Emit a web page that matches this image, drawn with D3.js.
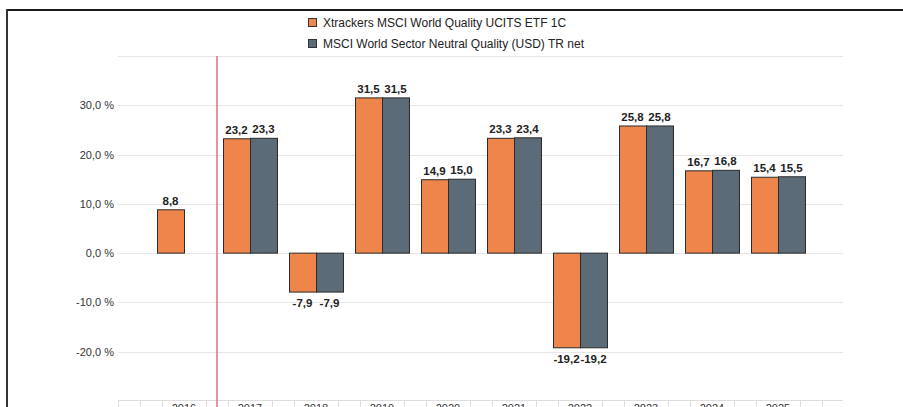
<!DOCTYPE html>
<html lang="de">
<head>
<meta charset="utf-8">
<title>Jahresperformance</title>
<script src="https://cdn.jsdelivr.net/npm/d3@7"></script>
<style>
  body { margin: 0; background: #fff; }
  svg { display: block; font-family: "Liberation Sans", Arial, sans-serif; }
</style>
</head>
<body>
<script>
// data
const years = ["2016", "2017", "2018", "2019", "2020", "2021", "2022", "2023", "2024", "2025"];
const etfValues = [8.8, 23.2, -7.9, 31.5, 14.9, 23.3, -19.2, 25.8, 16.7, 15.4];
const indexValues = [null, 23.3, -7.9, 31.5, 15.0, 23.4, -19.2, 25.8, 16.8, 15.5];
const seriesNames = ["Xtrackers MSCI World Quality UCITS ETF 1C", "MSCI World Sector Neutral Quality (USD) TR net"];
const seriesColors = ["#ee854a", "#5b6b77"];
const yTicks = [-20, -10, 0, 10, 20, 30];
const markerYear = "2017"; // red line sits before this year

const w = 903, h = 407;
const plotL = 118, plotR = 844, plotT = 56, plotB = 401;

const svg = d3.select("body").append("svg")
  .attr("width", w)
  .attr("height", h);

const de = d3.formatLocale({decimal: ",", thousands: ".", grouping: [3], currency: ["", " €"], minus: "-"});
const fmt = de.format(".1f");

const x = d3.scalePoint().domain(years).range([plotL, plotR]).padding(1);
const step = x.step();
const xs = d3.scaleBand().domain([0, 1]).range([-27, 27]);
const y = d3.scaleLinear().domain([-30, 40]).range([plotB, plotT]);

// frame
svg.append("line").attr("x1", 7).attr("x2", w).attr("y1", 10).attr("y2", 10)
  .attr("stroke", "#1a1a1a").attr("stroke-width", 2);
svg.append("line").attr("x1", 7).attr("x2", 7).attr("y1", 9).attr("y2", h)
  .attr("stroke", "#333").attr("stroke-width", 2);

// grid
svg.append("g").selectAll("line")
  .data(yTicks.concat([40]))
  .join("line")
  .attr("x1", plotL).attr("x2", plotR - 1)
  .attr("y1", d => Math.round(y(d)) + 0.5).attr("y2", d => Math.round(y(d)) + 0.5)
  .attr("stroke", "#e6e6e6");

// y labels
svg.append("g").selectAll("text")
  .data(yTicks)
  .join("text")
  .attr("x", 114)
  .attr("y", d => y(d) + 4)
  .attr("text-anchor", "end")
  .attr("font-size", 11)
  .attr("fill", "#333")
  .text(d => fmt(d) + " %");

// bottom category table
const bands = [plotL, plotL + step / 3, plotL + 2 * step / 3];
years.forEach(yr => {
  bands.push(x(yr) + step / 3);
  bands.push(x(yr) + 2 * step / 3);
});
const tbl = svg.append("g");
tbl.append("line").attr("x1", plotL).attr("x2", plotR - 1).attr("y1", 400.5).attr("y2", 400.5)
  .attr("stroke", "#ddd");
tbl.selectAll("line.sep")
  .data(bands)
  .join("line")
  .attr("class", "sep")
  .attr("x1", d => Math.round(d) + 0.5).attr("x2", d => Math.round(d) + 0.5)
  .attr("y1", 400).attr("y2", h)
  .attr("stroke", "#ddd");
tbl.selectAll("text")
  .data(years)
  .join("text")
  .attr("x", d => x(d))
  .attr("y", 412)
  .attr("text-anchor", "middle")
  .attr("font-size", 11)
  .attr("fill", "#333")
  .text(d => d);

// red marker line
const mx = x(markerYear) - step / 2;
svg.append("line")
  .attr("x1", mx).attr("x2", mx)
  .attr("y1", plotT).attr("y2", h)
  .attr("stroke", "#e07272").attr("stroke-width", 1.5);

// bars
const series = [etfValues, indexValues];
series.forEach((vals, s) => {
  const pts = years.map((yr, i) => ({yr: yr, v: vals[i]})).filter(d => d.v !== null);
  const g = svg.append("g");
  g.selectAll("rect")
    .data(pts)
    .join("rect")
    .attr("x", d => x(d.yr) + xs(s) + 0.5)
    .attr("width", xs.bandwidth())
    .attr("y", d => y(Math.max(0, d.v)))
    .attr("height", d => Math.abs(y(d.v) - y(0)))
    .attr("fill", seriesColors[s])
    .attr("stroke", "#2b2b2b")
    .attr("stroke-width", 1);
  g.selectAll("text")
    .data(pts)
    .join("text")
    .attr("x", d => x(d.yr) + xs(s) + xs.bandwidth() / 2)
    .attr("y", d => d.v >= 0 ? y(d.v) - 5 : y(d.v) + 15)
    .attr("text-anchor", "middle")
    .attr("font-size", 11.5)
    .attr("font-weight", "bold")
    .attr("fill", "#222")
    .text(d => fmt(d.v));
});

// legend
const leg = svg.append("g");
seriesNames.forEach((name, i) => {
  leg.append("rect")
    .attr("x", 308.5).attr("y", 18.5 + i * 21)
    .attr("width", 8).attr("height", 8)
    .attr("fill", seriesColors[i])
    .attr("stroke", "#333");
  leg.append("text")
    .attr("x", 323).attr("y", 27 + i * 21)
    .attr("font-size", 12)
    .attr("fill", "#222")
    .text(name);
});
</script>
</body>
</html>
